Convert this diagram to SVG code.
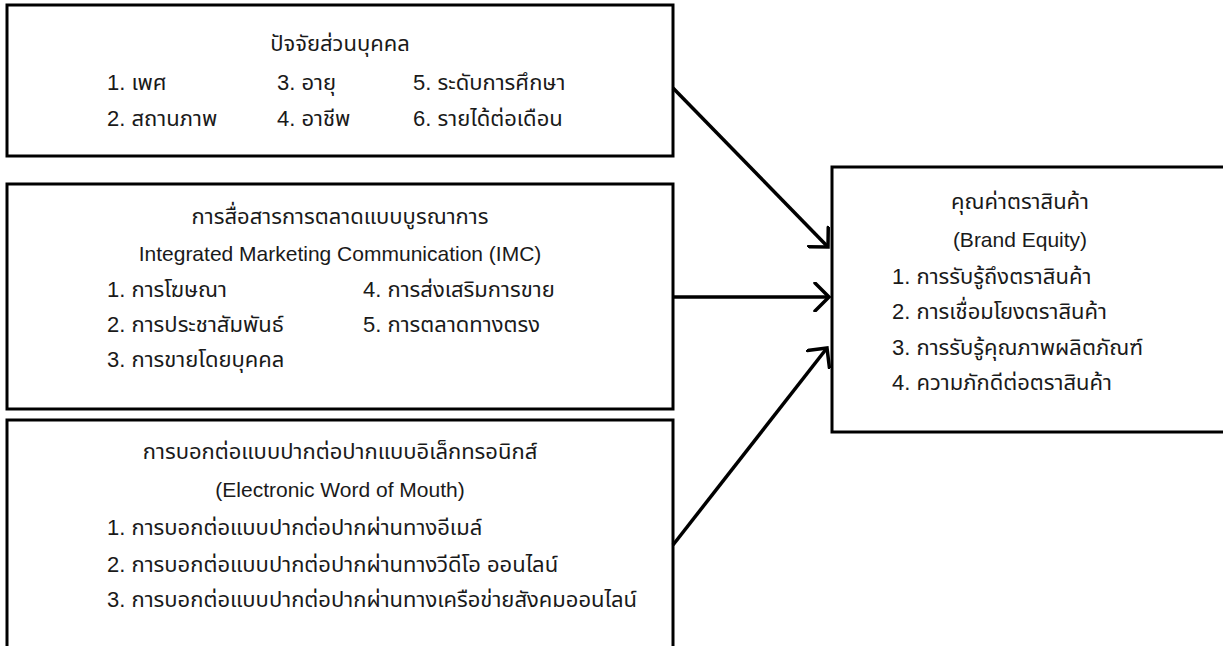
<svg xmlns="http://www.w3.org/2000/svg" width="1223" height="646" viewBox="0 0 1223 646">
  <defs>
    <style>
      .box { fill: #ffffff; stroke: #000000; stroke-width: 3; }
      .t { font-family: "Liberation Sans", "Noto Sans Thai", "Noto Sans Thai UI", "Loma", "Garuda", "Waree", "Sarabun", sans-serif; font-size: 22px; fill: #1a1a1a; }
      .en { font-size: 21px; }
      .c { text-anchor: middle; }
      .conn { fill: none; stroke: #000000; stroke-width: 3.5; }
    </style>
    <marker id="arrow" viewBox="0 0 20 30" refX="16" refY="15" markerWidth="20" markerHeight="30" markerUnits="userSpaceOnUse" orient="auto">
      <path d="M2,1 L16,15 L2,29" fill="none" stroke="#000000" stroke-width="3.5" stroke-linecap="round" stroke-linejoin="miter"/>
    </marker>
  </defs>
  <rect width="1223" height="646" fill="#ffffff"/>

  <g id="node-personal">
    <rect class="box" x="7" y="5" width="666" height="151"/>
    <text class="t c" x="340" y="51">ปัจจัยส่วนบุคคล</text>
    <text class="t" x="107" y="90">1. เพศ</text>
    <text class="t" x="277" y="90">3. อายุ</text>
    <text class="t" x="413" y="90">5. ระดับการศึกษา</text>
    <text class="t" x="107" y="126">2. สถานภาพ</text>
    <text class="t" x="277" y="126">4. อาชีพ</text>
    <text class="t" x="413" y="126">6. รายได้ต่อเดือน</text>
  </g>

  <g id="node-imc">
    <rect class="box" x="7" y="184" width="666" height="225"/>
    <text class="t c" x="340" y="224">การสื่อสารการตลาดแบบบูรณาการ</text>
    <text class="t en c" x="340" y="261">Integrated Marketing Communication (IMC)</text>
    <text class="t" x="107" y="297">1. การโฆษณา</text>
    <text class="t" x="363" y="297">4. การส่งเสริมการขาย</text>
    <text class="t" x="107" y="332">2. การประชาสัมพันธ์</text>
    <text class="t" x="363" y="332">5. การตลาดทางตรง</text>
    <text class="t" x="107" y="367">3. การขายโดยบุคคล</text>
  </g>

  <g id="node-ewom">
    <rect class="box" x="7" y="420" width="666" height="240"/>
    <text class="t c" x="340" y="459">การบอกต่อแบบปากต่อปากแบบอิเล็กทรอนิกส์</text>
    <text class="t en c" x="340" y="497">(Electronic Word of Mouth)</text>
    <text class="t" x="107" y="535">1. การบอกต่อแบบปากต่อปากผ่านทางอีเมล์</text>
    <text class="t" x="107" y="572">2. การบอกต่อแบบปากต่อปากผ่านทางวีดีโอ ออนไลน์</text>
    <text class="t" x="107" y="607">3. การบอกต่อแบบปากต่อปากผ่านทางเครือข่ายสังคมออนไลน์</text>
  </g>

  <g id="node-brand">
    <rect class="box" x="832" y="167" width="400" height="265"/>
    <text class="t c" x="1020" y="209">คุณค่าตราสินค้า</text>
    <text class="t en c" x="1020" y="247">(Brand Equity)</text>
    <text class="t" x="892" y="284">1. การรับรู้ถึงตราสินค้า</text>
    <text class="t" x="892" y="319">2. การเชื่อมโยงตราสินค้า</text>
    <text class="t" x="892" y="355">3. การรับรู้คุณภาพผลิตภัณฑ์</text>
    <text class="t" x="892" y="390">4. ความภักดีต่อตราสินค้า</text>
  </g>

  <g id="connectors">
    <line class="conn" x1="673" y1="88" x2="828" y2="247" marker-end="url(#arrow)"/>
    <line class="conn" x1="673" y1="297" x2="829" y2="297" marker-end="url(#arrow)"/>
    <line class="conn" x1="673" y1="545" x2="827" y2="348" marker-end="url(#arrow)"/>
  </g>
</svg>
